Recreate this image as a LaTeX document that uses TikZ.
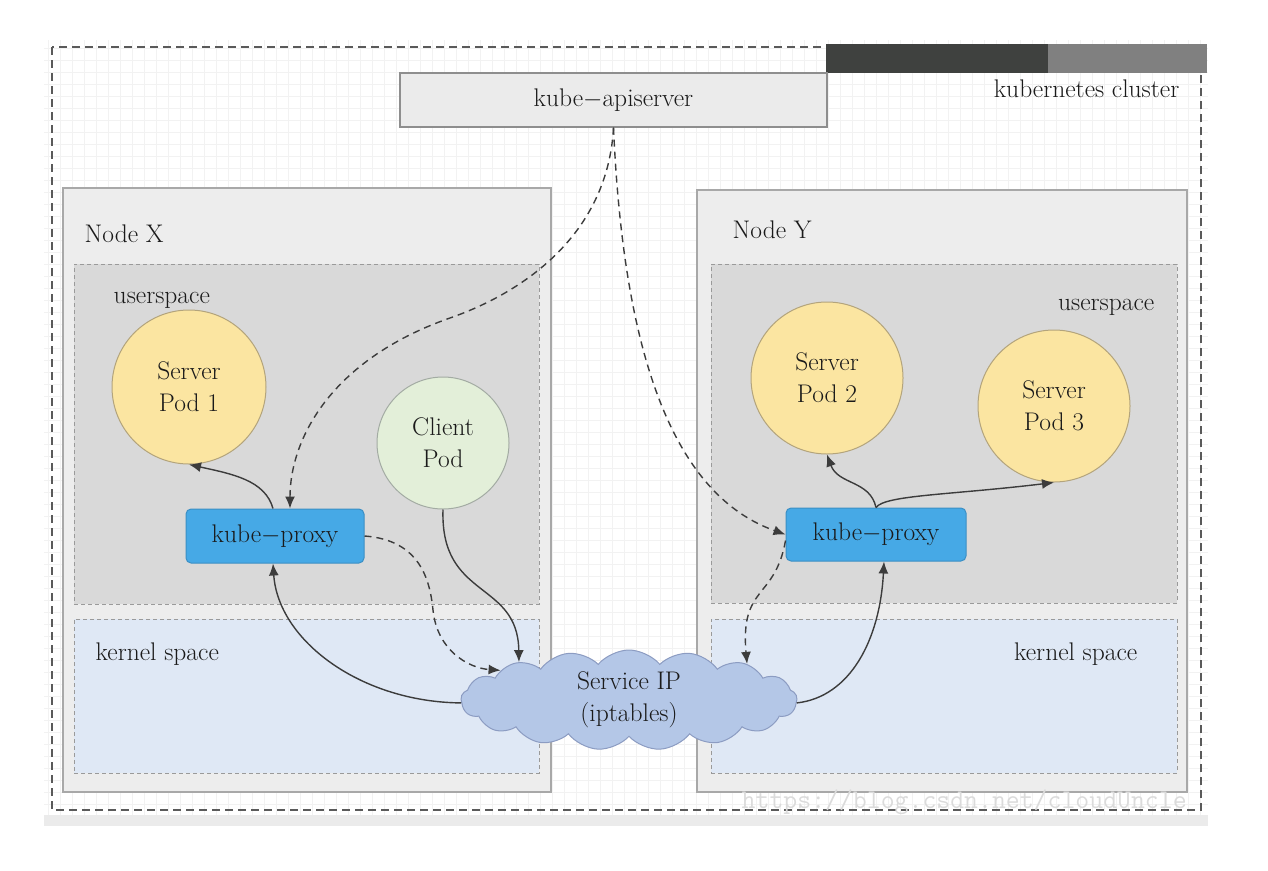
\documentclass[tikz,border=0pt]{standalone}
\usepackage{amsmath,amsfonts,amssymb}
\usepackage{tikz}
\usetikzlibrary{shapes, shapes.symbols, arrows.meta, positioning}
\usepackage{xcolor}

\definecolor{clusterdash}{HTML}{5A5A5A}
\definecolor{bardark}{HTML}{3F413F}
\definecolor{barlight}{HTML}{808080}
\definecolor{hostfill}{HTML}{EDEDED}
\definecolor{hostdraw}{HTML}{A8A8A8}
\definecolor{userfill}{HTML}{D9D9D9}
\definecolor{kernfill}{HTML}{DFE8F5}
\definecolor{spacedraw}{HTML}{9A9A9A}
\definecolor{serverfill}{HTML}{FBE5A1}
\definecolor{serverdraw}{HTML}{B3A47C}
\definecolor{clientfill}{HTML}{E3EFD9}
\definecolor{clientdraw}{HTML}{A3ABA3}
\definecolor{proxyfill}{HTML}{46A9E6}
\definecolor{proxydraw}{HTML}{3B8FC4}
\definecolor{cloudfill}{HTML}{B4C7E7}
\definecolor{clouddraw}{HTML}{8C9CC2}
\definecolor{apifill}{HTML}{EBEBEB}
\definecolor{apidraw}{HTML}{8E8E8E}
\definecolor{wire}{HTML}{3C3C3C}
\definecolor{ink}{HTML}{1A1A1A}

\begin{document}
\begin{tikzpicture}[x=1pt, y=-1pt, thick, font=\fontsize{25.5}{32}\selectfont, text=ink]
        % Define block styles
        \tikzstyle{hostbox} = [rectangle, draw=hostdraw, fill=hostfill, line width=1.2pt, inner sep=0pt]
        \tikzstyle{userbox} = [rectangle, draw=spacedraw, fill=userfill, line width=0.9pt, dash pattern=on 4pt off 3pt, inner sep=0pt]
        \tikzstyle{kernbox} = [userbox, fill=kernfill]
        \tikzstyle{apibox} = [rectangle, draw=apidraw, fill=apifill, line width=1.2pt, inner sep=0pt]
        \tikzstyle{server} = [circle, draw=serverdraw, fill=serverfill, line width=1pt, inner sep=0pt, align=center]
        \tikzstyle{client} = [server, draw=clientdraw, fill=clientfill]
        \tikzstyle{proxy} = [rectangle, rounded corners=5pt, draw=proxydraw, fill=proxyfill, line width=1pt, inner sep=0pt, minimum width=178pt, minimum height=54pt]
        \tikzstyle{svcloud} = [cloud, cloud puffs=17, cloud puff arc=100, cloud ignores aspect, draw=clouddraw, fill=cloudfill, line width=1pt, inner sep=0pt, align=center, minimum width=336pt, minimum height=100pt]
        \tikzstyle{line} = [draw=wire, line width=1.4pt, -{Latex[length=12pt, width=10pt]}]
        \tikzstyle{dline} = [line, dash pattern=on 7pt off 5pt]

        % Background paper
        \useasboundingbox (0,0) rectangle (1268,870);
        \fill[white] (0,0) rectangle (1268,870);
        \draw[black!5, line width=0.6pt, step=12pt] (44,40) grid (1208,815);
        \fill[black!8] (44,815) rectangle (1208,826);

        % Cluster frame
        \draw[clusterdash, line width=2.4pt, dash pattern=on 8pt off 5pt] (52,47) rectangle (1201,810);
        \fill[bardark] (826,44) rectangle (1048,73);
        \fill[barlight] (1048,44) rectangle (1207,73);
        \node[anchor=base east] (cluster) at (1183,97) {kubernetes cluster};

        % Define nodes
        \node [apibox, minimum width=427pt, minimum height=54pt] (api) at (613.5,100) {kube$-$apiserver};

        \node [hostbox, minimum width=488pt, minimum height=604pt] (NX) at (307,490) {};
        \node [userbox, minimum width=465pt, minimum height=340pt] (usrX) at (306.5,434) {};
        \node [kernbox, minimum width=465pt, minimum height=154pt] (kerX) at (306.5,696) {};
        \node [anchor=base west] (NXlbl) at (81,242) {Node X};
        \node [anchor=base west] (usrXlbl) at (110,303) {userspace};
        \node [anchor=base west] (kerXlbl) at (92,660) {kernel space};

        \node [hostbox, minimum width=490pt, minimum height=602pt] (NY) at (942,491) {};
        \node [userbox, minimum width=466pt, minimum height=339pt] (usrY) at (944,433.5) {};
        \node [kernbox, minimum width=466pt, minimum height=154pt] (kerY) at (944,696) {};
        \node [anchor=base west] (NYlbl) at (729,238) {Node Y};
        \node [anchor=base east] (usrYlbl) at (1158,310) {userspace};
        \node [anchor=base east] (kerYlbl) at (1141,660) {kernel space};

        \node [server, minimum size=154pt] (SP1) at (189,387) {Server\\Pod 1};
        \node [client, minimum size=132pt] (CP) at (443,443) {Client\\Pod};
        \node [server, minimum size=152pt] (SP2) at (827,378) {Server\\Pod 2};
        \node [server, minimum size=152pt] (SP3) at (1054,406) {Server\\Pod 3};

        \node [proxy] (KPX) at (275,536) {kube$-$proxy};
        \node [proxy, minimum width=180pt, minimum height=53pt] (KPY) at (876,534.5) {kube$-$proxy};

        \node [svcloud] (SIP) at (629,700) {Service IP\\(iptables)};

        \node [anchor=base west, font=\ttfamily\fontsize{27}{30}\selectfont, text=black!14] (mark) at (738,808) {https://blog.csdn.net/cloudUncle};

        % Connect nodes with paths
        \path [dline] (api.south) .. controls (608,230) and (530,290) .. (450,318) .. controls (330,360) and (290,440) .. ([xshift=15pt]KPX.north);
        \path [dline] (api.south) .. controls (622,320) and (660,490) .. (KPY.west);

        \path [line] ([xshift=-2pt]KPX.north) .. controls (265,480) and (232,474) .. (SP1.south);
        \path [dline] (KPX.east) .. controls (420,540) and (430,580) .. (433,610) .. controls (437,650) and (468,668) .. (SIP.167);
        \path [line] (CP.south) .. controls (440,600) and (518,580) .. (SIP.161);
        \path [line] (SIP.181) .. controls (360,702) and (278,640) .. ([xshift=-2pt]KPX.south);

        \path [line] (KPY.north) .. controls (870,480) and (838,485) .. (SP2.south);
        \path [line] (KPY.north) .. controls (885,495) and (950,495) .. (SP3.south);
        \path [dline] ([yshift=-6pt]KPY.west) .. controls (775,600) and (740,585) .. (SIP.17);
        \path [line] (SIP.-1) .. controls (850,697) and (880,640) .. ([xshift=8pt]KPY.south);

\end{tikzpicture}
\end{document}
